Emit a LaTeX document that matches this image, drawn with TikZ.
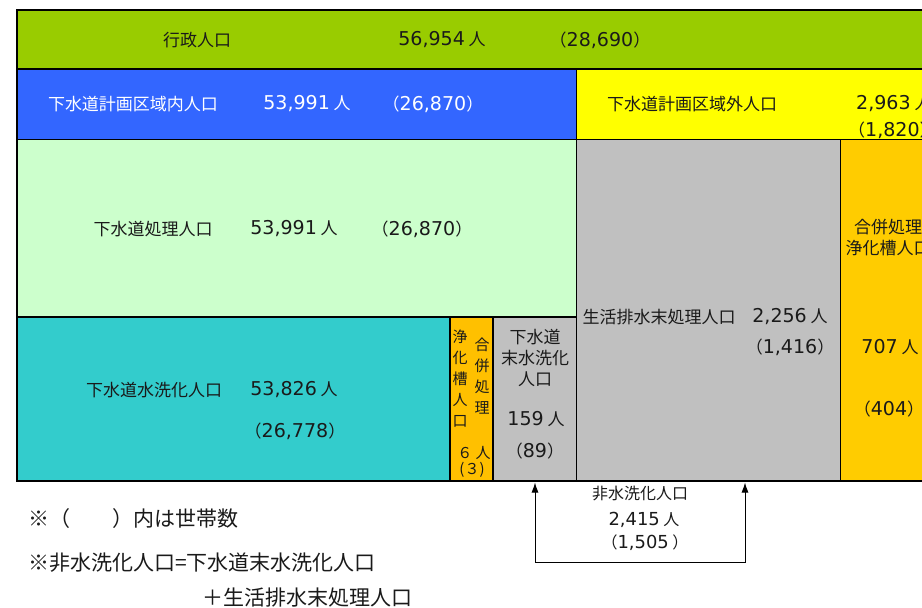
\documentclass[tikz,border=0pt]{standalone}
\usepackage{fontspec}
\setmainfont{Noto Sans CJK JP}
\newfontfamily\dv[Scale=1.12]{DejaVu Sans}
\usetikzlibrary{arrows.meta}
\definecolor{cGreen}{HTML}{99CC00}
\definecolor{cBlue}{HTML}{3366FF}
\definecolor{cYellow}{HTML}{FFFF00}
\definecolor{cLight}{HTML}{CCFFCC}
\definecolor{cCyan}{HTML}{33CCCC}
\definecolor{cOrangeA}{HTML}{FFC000}
\definecolor{cOrangeB}{HTML}{FFCC00}
\definecolor{cGray}{HTML}{C0C0C0}
\definecolor{cText}{HTML}{1A1A1A}
\newcommand\fmain{\fontsize{17}{21}\selectfont}
\newcommand\fsmall{\fontsize{15}{21}\selectfont}
\newcommand\fnote{\fontsize{21}{25}\selectfont}
\newcommand\farr{\fontsize{16}{20}\selectfont}
\begin{document}
\begin{tikzpicture}[x=1pt,y=-1pt,
  box/.style={draw=black,line width=1.2pt},
  lbl/.style={inner sep=0pt,text=cText,font=\fmain},
  vlbl/.style={inner sep=0pt,text=cText,font=\fsmall,align=center},
  note/.style={inner sep=0pt,text=cText,font=\fnote},
  arr/.style={inner sep=0pt,text=cText,font=\farr},
  bracket/.style={draw=black,line width=1pt,{Latex[length=10pt,width=7pt]}-{Latex[length=10pt,width=7pt]}}]
\useasboundingbox (0,0) rectangle (922,608);
\fill[white] (0,0) rectangle (922,608);
\clip (0,0) rectangle (922,608);
% boxes
\filldraw[box,fill=cGreen]  (17,10) rectangle (945,69);
\filldraw[box,fill=cBlue]   (17,69) rectangle (576.5,139.5);
\filldraw[box,fill=cYellow] (576.5,69) rectangle (945,139.5);
\filldraw[box,fill=cLight]  (17,139.5) rectangle (576.5,317);
\filldraw[box,fill=cCyan]   (17,317) rectangle (450,481);
\filldraw[box,fill=cOrangeA](450,317) rectangle (493,481);
\filldraw[box,fill=cGray]   (493,317) rectangle (576.5,481);
\filldraw[box,fill=cGray]   (576.5,139.5) rectangle (840.5,481);
\filldraw[box,fill=cOrangeB](840.5,139.5) rectangle (945,481);
% row 1
\node[lbl] (gyosei) at (197,40) {行政人口};
\node[lbl] (gyoseiN) at (442,40) {{\dv 56,954} 人};
\node[lbl] (gyoseiH) at (600,40) {（{\dv 28,690}）};
% row 2
\node[lbl,text=white] (naiL) at (133,104) {下水道計画区域内人口};
\node[lbl,text=white] (naiN) at (307,104) {{\dv 53,991} 人};
\node[lbl,text=white] (naiH) at (433,104) {（{\dv 26,870}）};
\node[lbl] (gaiL) at (692,104) {下水道計画区域外人口};
\node[lbl,anchor=west] (gaiN) at (856,104) {{\dv 2,963} 人};
\node[lbl,anchor=west] (gaiH) at (848,130) {（{\dv 1,820}）};
% row 3
\node[lbl] (shoriL) at (153,229) {下水道処理人口};
\node[lbl] (shoriN) at (294,229) {{\dv 53,991} 人};
\node[lbl] (shoriH) at (422,229) {（{\dv 26,870}）};
% cyan
\node[lbl] (suisenL) at (154,390) {下水道水洗化人口};
\node[lbl] (suisenN) at (294,390) {{\dv 53,826} 人};
\node[lbl] (suisenH) at (295,431) {（{\dv 26,778}）};
% small orange
\node[vlbl] (jokaL) at (460,378.5) {浄\\化\\槽\\人\\口};
\node[vlbl] (jokaR) at (482,376.5) {合\\併\\処\\理};
\node[vlbl] (jokaN) at (474,453) {６ 人};
\node[vlbl] (jokaH) at (472,470) {(３)};
% small gray
\node[lbl,align=center] (misuiL) at (535,358) {下水道\\末水洗化\\人口};
\node[lbl] (misuiN) at (536,419) {{\dv 159} 人};
\node[lbl] (misuiH) at (535,451) {（{\dv 89}）};
% big gray
\node[lbl] (mishoriL) at (659,317) {生活排水末処理人口};
\node[lbl] (mishoriN) at (790,317) {{\dv 2,256} 人};
\node[lbl] (mishoriH) at (790,347) {（{\dv 1,416}）};
% right orange
\node[lbl,align=center] (gappeiL) at (888,238) {合併処理\\浄化槽人口};
\node[lbl] (gappeiN) at (890,347) {{\dv 707} 人};
\node[lbl] (gappeiH) at (889,409) {（{\dv 404}）};
% bracket
\coordinate (tipL) at (535,482.5);
\coordinate (botL) at (535,562);
\coordinate (botR) at (745,562);
\coordinate (tipR) at (745,482.5);
\draw[bracket] (tipL) -- (botL) -- (botR) -- (tipR);
\node[arr] (hisuiL) at (640,494) {非水洗化人口};
\node[arr] (hisuiN) at (644,520) {{\dv 2,415} 人};
\node[arr] (hisuiH) at (645,543) {（{\dv 1,505} ）};
% notes
\node[note,anchor=west] (note1) at (28,519) {※（　　）内は世帯数};
\node[note,anchor=west] (note2) at (28,563) {※非水洗化人口=下水道末水洗化人口};
\node[note] (note3) at (307,598) {＋生活排水末処理人口};
\end{tikzpicture}
\end{document}
